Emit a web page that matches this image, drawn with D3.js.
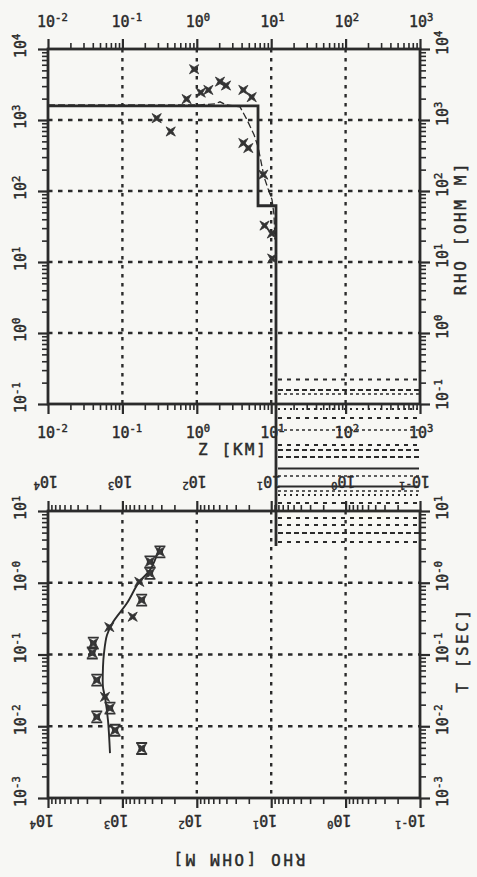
<!DOCTYPE html>
<html><head><meta charset="utf-8">
<script src="https://cdn.jsdelivr.net/npm/d3@7"></script>
<style>html,body{margin:0;padding:0;background:#f7f7f4}svg{display:block}</style>
</head><body>
<svg id="chart" width="477" height="877"></svg>
<script>
// ---------------- DATA ----------------
// top panel: depth (km) vs resistivity (ohm m)
const depthTicks = [1e-2, 1e-1, 1e0, 1e1, 1e2, 1e3];
const depthTickExps = ["-2", "-1", "0", "1", "2", "3"];
const rhoTopTicks = [1e-1, 1e0, 1e1, 1e2, 1e3, 1e4];
const rhoTopTickExps = ["-1", "0", "1", "2", "3", "4"];

const obsDepthKm = [0.92, 0.73, 1.13, 1.43, 2.05, 2.47, 4.22, 5.47, 0.289, 0.446, 4.22, 4.92, 7.83, 8.13, 10.2, 10.3];
const obsRhoDepth = [5190, 1970, 2430, 2650, 3470, 3060, 2650, 2100, 1060, 689, 474, 403, 170, 32.6, 25.2, 11.2];

const layerTopKm = [0.01, 6.65, 11.6];
const layerRho = [1580, 62, 0.001];
const halfSpaceMaxDepthKm = 1000;
const halfSpaceTopRho = 0.24;

const invDepthKm = [0.01, 1.10, 1.76, 2.05, 2.47, 3.81, 4.73, 5.88, 6.65, 7.30, 8.00, 9.06, 10.25, 10.9, 11.2];
const invRho = [1635, 1635, 1690, 1803, 1635, 1531, 1007, 620, 421, 259, 159, 108, 75.7, 46.6, 20.8];

// bottom panel: period (s) vs apparent resistivity (ohm m), rho axis reversed
const rhoBotTicks = [1e4, 1e3, 1e2, 1e1, 1e0, 1e-1];
const rhoBotTickExps = ["4", "3", "2", "1", "0", "-1"];
const periodTicks = [1e-3, 1e-2, 1e-1, 1e0, 1e1];
const periodTickExps = ["-3", "-2", "-1", "-0", "1"];

const obsPeriod = [2.70, 1.96, 1.35, 1.03, 0.574, 0.336, 0.241, 0.144, 0.105, 0.044, 0.0257, 0.0179, 0.0135, 0.0088, 0.0049];
const obsRhoPeriod = [313, 426, 426, 593, 551, 728, 1500, 2460, 2540, 2210, 1714, 1468, 2210, 1256, 551];
const obsMarker = ["box", "box", "box", "star", "box", "star", "star", "box", "box", "box", "star", "box", "box", "box", "box"];

const respPeriod = [3.15, 1.50, 1.02, 0.521, 0.283, 0.187, 0.105, 0.0667, 0.0351, 0.0255, 0.0122, 0.00422];
const respRho = [313, 426, 599, 867, 1337, 1611, 1766, 1824, 1824, 1714, 1563, 1468];

// ---------------- STYLE / LAYOUT ----------------
const INK = "#2b2b2b";
const FONT = "'DejaVu Sans Mono', 'Liberation Mono', monospace";
const svg = d3.select("#chart");

const xTop = d3.scaleLog().domain([1e-2, 1e3]).range([48, 420]);
const yTop = d3.scaleLog().domain([1e-1, 1e4]).range([404, 49]);
const xBot = d3.scaleLog().domain([1e4, 1e-1]).range([48, 420]);
const yBot = d3.scaleLog().domain([1e-3, 1e1]).range([798, 511]);

function logTicks(lo, hi) {
  const out = [];
  for (let e = Math.round(Math.log10(lo)); e < Math.round(Math.log10(hi)); e++)
    for (let k = 1; k <= 9; k++) out.push(k * Math.pow(10, e));
  out.push(hi);
  return out;
}
const isMajor = v => Math.abs(Math.log10(v) - Math.round(Math.log10(v))) < 1e-6;

// ---------------- HATCHED HALF-SPACE ----------------
const hx0 = xTop(layerTopKm[2]), hx1 = xTop(halfSpaceMaxDepthKm);
const hy0 = yTop(halfSpaceTopRho), hy1 = yTop(layerRho[2]);
const hatchRows = [
  [2.5, "dash"], [13, "slant"], [17, "fine"], [32, "dot"], [41, "dash"], [53, "fine"],
  [68, "dash"], [73, "slant"], [80, "slant"], [91.5, "solid"], [99, "fine"], [109.5, "solid"],
  [114, "fine"], [118, "dot"], [126, "dash"], [141, "dash"], [148, "dash"], [156, "slant"], [165, "dash"]
];
const hatchStyle = {
  dash: {w: 2.2, d: "4,5"}, slant: {w: 2.2, d: "5,3"}, fine: {w: 1.6, d: "3,3"},
  dot: {w: 1.8, d: "2,4"}, solid: {w: 2.0, d: null}
};
const hatch = svg.append("g");
hatchRows.forEach(([off, kind]) => {
  const s = hatchStyle[kind];
  hatch.append("line").attr("x1", hx0 + 2).attr("x2", hx1 - 1)
    .attr("y1", hy0 + off).attr("y2", hy0 + off)
    .attr("stroke", INK).attr("stroke-width", s.w)
    .attr("stroke-dasharray", s.d);
});

// ---------------- GRIDS ----------------
function grid(g, xs, ys, xVals, yVals) {
  const [x0, x1] = xs.range(), [y0, y1] = ys.range();
  xVals.forEach(v => g.append("line").attr("x1", xs(v)).attr("x2", xs(v))
    .attr("y1", Math.min(y0, y1)).attr("y2", Math.max(y0, y1))
    .attr("stroke", INK).attr("stroke-width", 2.4).attr("stroke-dasharray", "3.5,5.5"));
  yVals.forEach(v => g.append("line").attr("y1", ys(v)).attr("y2", ys(v))
    .attr("x1", Math.min(x0, x1)).attr("x2", Math.max(x0, x1))
    .attr("stroke", INK).attr("stroke-width", 2.4).attr("stroke-dasharray", "4.5,5.5"));
}
grid(svg.append("g"), xTop, yTop, [1e-1, 1e0, 1e1, 1e2], [1e0, 1e1, 1e2, 1e3]);
grid(svg.append("g"), xBot, yBot, [1e3, 1e2, 1e1, 1e0], [1e-2, 1e-1, 1e0]);

// ---------------- AXES ----------------
function axis(gen, scale, tvals, transform, dir) {
  const g = svg.append("g").attr("transform", transform)
    .call(gen(scale).tickValues(tvals).tickSize(6).tickSizeOuter(0).tickFormat(""));
  g.select(".domain").remove();
  g.selectAll(".tick line").attr("stroke", INK)
    .attr("stroke-width", d => isMajor(d) ? 2.2 : 1.6)
    .attr(dir, function(d) { const cur = +d3.select(this).attr(dir); return isMajor(d) ? Math.sign(cur) * 10 : cur; });
}
const zT = logTicks(1e-2, 1e3), rT = logTicks(1e-1, 1e4), pT = logTicks(1e-3, 1e1);
axis(d3.axisTop, xTop, zT, "translate(0,49)", "y2");
axis(d3.axisBottom, xTop, zT, "translate(0,404)", "y2");
axis(d3.axisLeft, yTop, rT, "translate(48,0)", "x2");
axis(d3.axisRight, yTop, rT, "translate(420,0)", "x2");
axis(d3.axisTop, xBot, rT, "translate(0,511)", "y2");
axis(d3.axisBottom, xBot, rT, "translate(0,798)", "y2");
axis(d3.axisLeft, yBot, pT, "translate(48,0)", "x2");
axis(d3.axisRight, yBot, pT, "translate(420,0)", "x2");

svg.append("rect").attr("x", 48).attr("y", 49).attr("width", 372).attr("height", 355)
  .attr("fill", "none").attr("stroke", INK).attr("stroke-width", 2.8);
svg.append("rect").attr("x", 48).attr("y", 511).attr("width", 372).attr("height", 287)
  .attr("fill", "none").attr("stroke", INK).attr("stroke-width", 2.8);

// ---------------- LABELS ----------------
function powLabel(x, y, exp, angle, size) {
  size = size || 15;
  const t = svg.append("text").attr("transform", `translate(${x},${y}) rotate(${angle})`)
    .attr("font-family", FONT).attr("font-size", size).attr("fill", INK)
    .attr("stroke", INK).attr("stroke-width", 0.45);
  t.append("tspan").text("10");
  t.append("tspan").attr("dy", -6).attr("font-size", 10.5).text(exp);
}
depthTicks.forEach((v, i) => {
  powLabel(xTop(v) - 11, 27, depthTickExps[i], 0);
  powLabel(xTop(v) - 11, 438, depthTickExps[i], 0);
});
rhoTopTicks.forEach((v, i) => {
  powLabel(26, yTop(v) + 9, rhoTopTickExps[i], -90);
  powLabel(448, yTop(v) + 6, rhoTopTickExps[i], -90);
});
rhoBotTicks.forEach((v, i) => {
  powLabel(xBot(v) + 10, 476, rhoBotTickExps[i], 180);
  powLabel(xBot(v) + 6, 815, rhoBotTickExps[i], 180);
});
periodTicks.forEach((v, i) => {
  powLabel(26, yBot(v) + 9, periodTickExps[i], -90);
  powLabel(448, yBot(v) + 9, periodTickExps[i], -90);
});
function title(x, y, angle, txt, ls) {
  svg.append("text").attr("transform", `translate(${x},${y}) rotate(${angle})`)
    .attr("text-anchor", "middle").attr("font-family", FONT).attr("font-size", 16)
    .attr("letter-spacing", ls).attr("fill", INK)
    .attr("stroke", INK).attr("stroke-width", 0.45).text(txt);
}
title(233, 455, 0, "Z [KM]", 2);
title(466, 228, -90, "RHO [OHM M]", 2.6);
title(238, 854, 180, "RHO [OHM M]", 2.6);
title(468, 650, -90, "T [SEC]", 2.6);

// ---------------- MODEL STEP LINE ----------------
const stepPts = [];
layerTopKm.forEach((z, i) => {
  if (i > 0) stepPts.push([z, layerRho[i - 1]]);
  stepPts.push([z, layerRho[i]]);
});
svg.append("path").datum(stepPts)
  .attr("d", d3.line().x(d => xTop(d[0])).y(d => yTop(d[1])))
  .attr("fill", "none").attr("stroke", INK).attr("stroke-width", 2.8);

// transformed (Bostick) curve, thin dashed
svg.append("path").datum(invDepthKm.map((z, i) => [z, invRho[i]]))
  .attr("d", d3.line().x(d => xTop(d[0])).y(d => yTop(d[1])))
  .attr("fill", "none").attr("stroke", INK).attr("stroke-width", 1.3).attr("stroke-dasharray", "7,3");

// model response curve, bottom panel
svg.append("path").datum(respPeriod.map((t, i) => [respRho[i], t]))
  .attr("d", d3.line().x(d => xBot(d[0])).y(d => yBot(d[1])).curve(d3.curveCatmullRom))
  .attr("fill", "none").attr("stroke", INK).attr("stroke-width", 1.9);

// ---------------- MARKERS ----------------
function starPath(R, r) {
  const pts = d3.range(8).map(i => {
    const a = Math.PI / 4 + i * Math.PI / 4, rad = i % 2 === 0 ? R : r;
    return [rad * Math.cos(a), rad * Math.sin(a)];
  });
  return "M" + pts.map(p => p.join(",")).join("L") + "Z";
}
const STAR = starPath(6.5, 2);
obsDepthKm.forEach((z, i) => {
  svg.append("path").attr("d", STAR)
    .attr("transform", `translate(${xTop(z)},${yTop(obsRhoDepth[i])})`)
    .attr("fill", "#333").attr("stroke", "#333").attr("stroke-width", 0.8);
});
obsPeriod.forEach((t, i) => {
  const g = svg.append("g").attr("transform", `translate(${xBot(obsRhoPeriod[i])},${yBot(t)})`);
  if (obsMarker[i] === "box") {
    g.append("path").attr("d", starPath(6.5, 2.2)).attr("fill", "#3a3a3a").attr("stroke", "#333").attr("stroke-width", 0.8);
    g.append("path").attr("d", "M-5.5,-5.5H5.5M-5.5,5.5H5.5M-2.2,-3V3M2.2,-3V3")
      .attr("stroke", "#333").attr("stroke-width", 1.8).attr("fill", "none");
  } else {
    g.append("path").attr("d", starPath(6.5, 2)).attr("fill", "#333").attr("stroke", "#333").attr("stroke-width", 0.8);
  }
});
</script>
</body></html>
